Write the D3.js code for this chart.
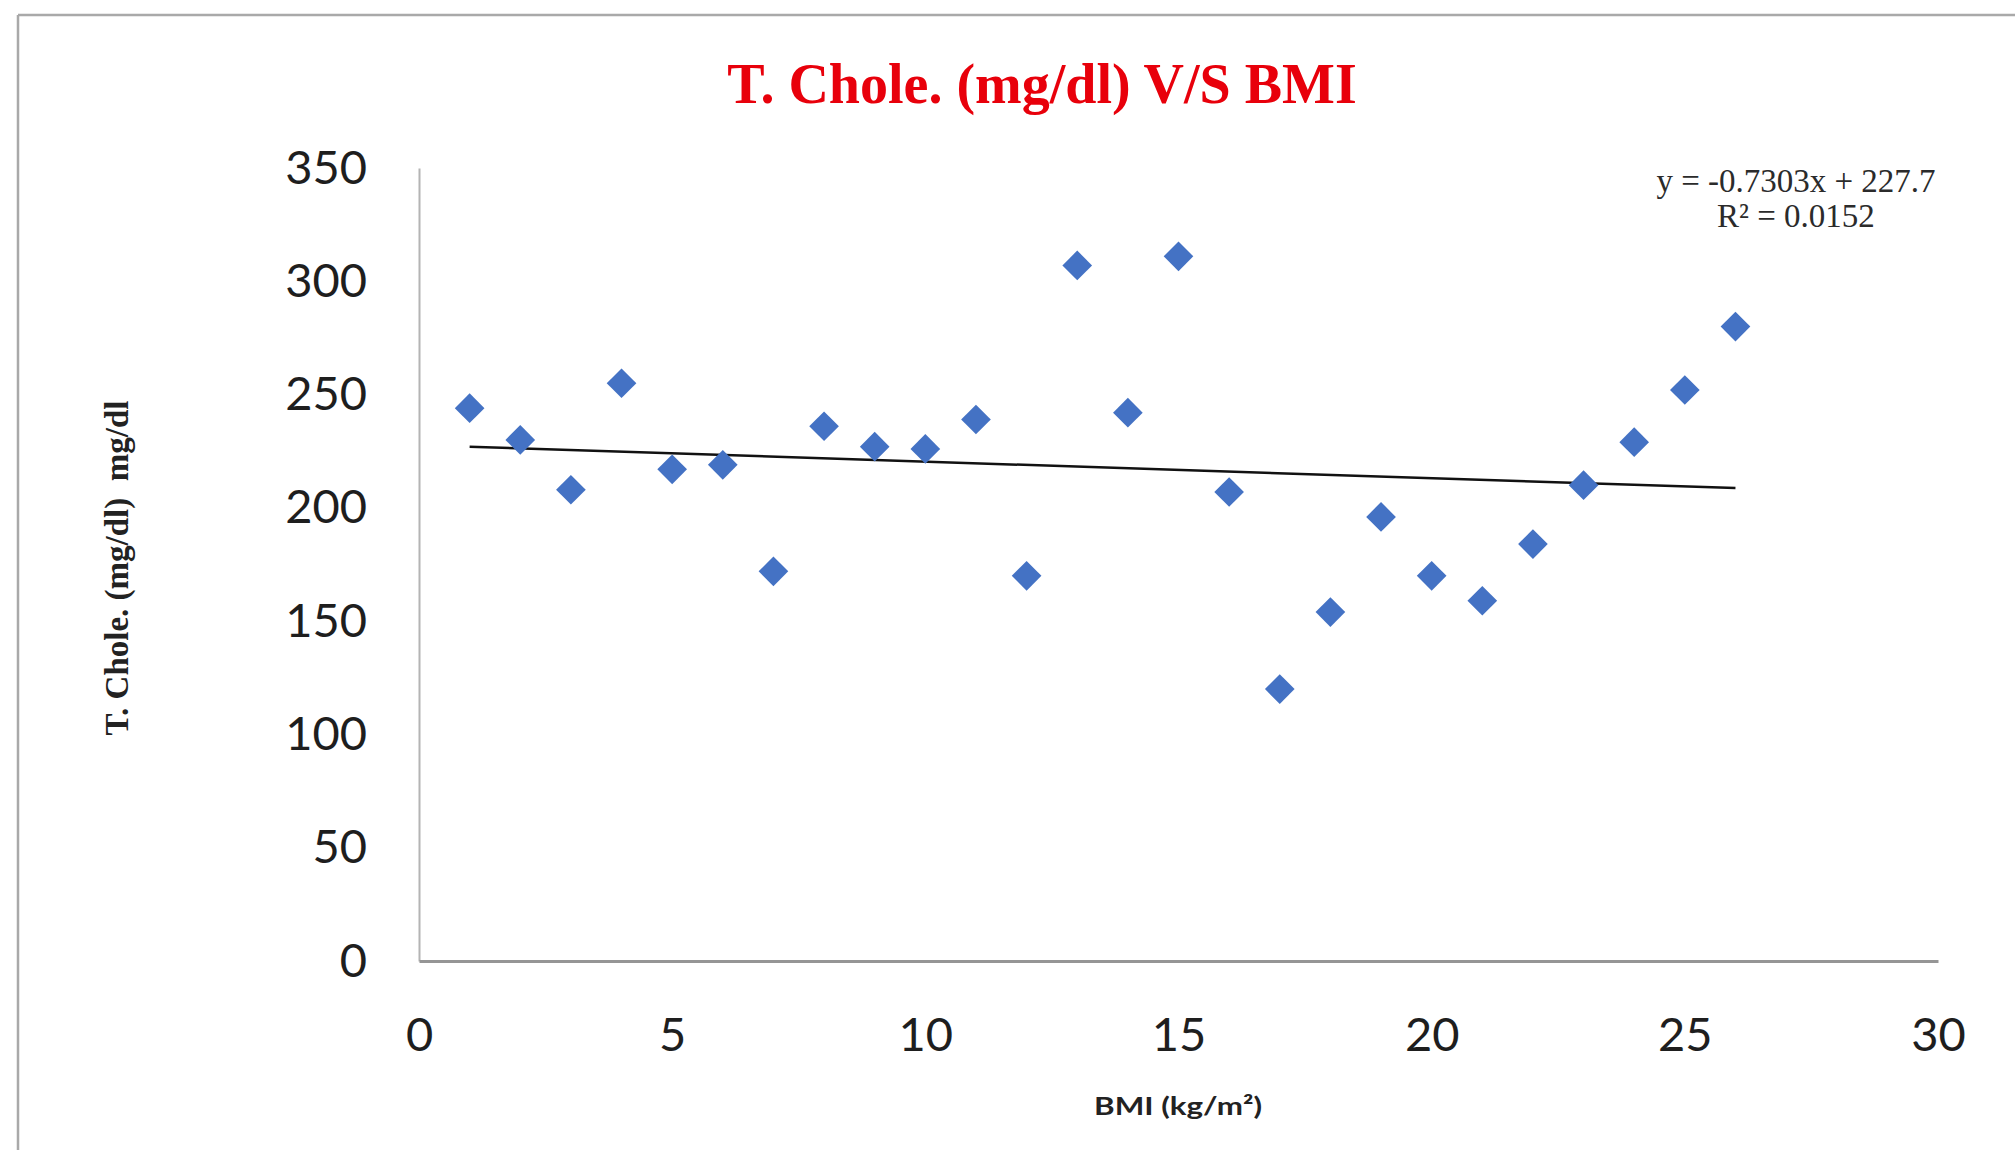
<html><head>
<meta charset="utf-8">
<title>T. Chole. (mg/dl) V/S BMI</title>
<script type="text/javascript" src="https://d3js.org/d3.v7.min.js"></script>
<style>
  body { margin: 0; background: #fff; }
</style>
</head>
<body>
<div id="chart"></div>

<script>

// values
var bmi = [1, 2, 3, 4, 5, 6, 7, 8, 9, 10, 11, 12, 13, 14, 15, 16, 17, 18, 19, 20, 21, 22, 23, 24, 25, 26];
var chole = [244, 230, 208, 255, 217, 219, 172, 236, 227, 226, 239, 170, 307, 242, 311, 207, 120, 154, 196, 170, 159, 184, 210, 229, 252, 280];
var xTicks = [0, 5, 10, 15, 20, 25, 30];
var yTicks = [0, 50, 100, 150, 200, 250, 300, 350];
var trendLabel = ["y = -0.7303x + 227.7", "R\u00b2 = 0.0152"];

var width = 2015;
var height = 1150;

var svg = d3.select("#chart")
  .append("svg")
    .attr("width", width)
    .attr("height", height);

// frame (only top and left edges show in the picture)
svg.append("line")
  .attr("x1", 18).attr("y1", 15).attr("x2", width).attr("y2", 15)
  .attr("stroke", "#a9a9a9").attr("stroke-width", 2.5);
svg.append("line")
  .attr("x1", 18).attr("y1", 15).attr("x2", 18).attr("y2", height)
  .attr("stroke", "#a9a9a9").attr("stroke-width", 2.5);

var xScale = d3.scaleLinear()
    .domain([0, 30])
    .range([419, 1938]);

var yScale = d3.scaleLinear()
    .domain([0, 350])
    .range([961, 168]);

// y axis
var yAxis = d3.axisLeft(yScale)
    .tickValues(yTicks)
    .tickSize(0)
    .tickPadding(52);

var gy = svg.append("g")
    .attr("transform", "translate(" + xScale(0) + ",0)")
    .call(yAxis);
gy.select(".domain").attr("stroke", "#b4b4b4").attr("stroke-width", 2);
gy.selectAll("text")
    .style("font-family", "Lato")
    .style("font-size", "47px")
    .attr("fill", "#1e1e1e");

// x axis
var xAxis = d3.axisBottom(xScale)
    .tickValues(xTicks)
    .tickSize(0)
    .tickPadding(57);

var gx = svg.append("g")
    .attr("transform", "translate(0," + yScale(0) + ")")
    .call(xAxis);
gx.select(".domain").attr("stroke", "#959595").attr("stroke-width", 3);
gx.selectAll("text")
    .style("font-family", "Lato")
    .style("font-size", "47px")
    .attr("fill", "#1e1e1e");

// linear trend line (least squares over the points)
var mx = d3.mean(bmi);
var my = d3.mean(chole);
var sxy = d3.sum(bmi, function(d, i) { return (d - mx) * (chole[i] - my); });
var sxx = d3.sum(bmi, function(d) { return (d - mx) * (d - mx); });
var slope = sxy / sxx;
var intercept = my - slope * mx;
var xr = d3.extent(bmi);

svg.append("path")
    .datum(xr)
    .attr("fill", "none")
    .attr("stroke", "#111")
    .attr("stroke-width", 2.5)
    .attr("d", d3.line()
      .x(function(d) { return xScale(d); })
      .y(function(d) { return yScale(slope * d + intercept); })
    );

// points
svg.selectAll(".pt")
  .data(bmi)
  .enter()
  .append("path")
    .attr("class", "pt")
    .attr("d", d3.symbol().type(d3.symbolSquare).size(440))
    .attr("transform", function(d, i) {
      return "translate(" + xScale(d) + "," + yScale(chole[i]) + ") rotate(45)";
    })
    .attr("fill", "#4472c4");

// trendline equation
svg.append("g")
  .selectAll("text")
  .data(trendLabel)
  .enter()
  .append("text")
    .attr("x", 1796)
    .attr("y", function(d, i) { return 192 + i * 35; })
    .attr("text-anchor", "middle")
    .style("font-family", "Liberation Serif")
    .style("font-size", "33px")
    .attr("fill", "#2b2b2b")
    .text(function(d) { return d; });

// title
svg.append("text")
 .attr("x", 1042)
 .attr("y", 103)
 .attr("text-anchor", "middle")
 .style("font-family", "Liberation Serif")
 .style("font-weight", "bold")
 .style("font-size", "56px")
 .attr("fill", "#e8000b")
 .text("T. Chole. (mg/dl) V/S BMI");

// axis titles
svg.append("text")
 .attr("x", 1178)
 .attr("y", 1115)
 .attr("text-anchor", "middle")
 .attr("textLength", 168)
 .attr("lengthAdjust", "spacingAndGlyphs")
 .style("font-family", "Lato")
 .style("font-weight", "bold")
 .style("font-size", "25px")
 .attr("fill", "#222")
 .text("BMI (kg/m\u00b2)");

svg.append("text")
 .attr("transform", "translate(128,568) rotate(-90)")
 .attr("text-anchor", "middle")
 .style("font-family", "Liberation Serif")
 .style("font-weight", "bold")
 .style("font-size", "33px")
 .style("white-space", "pre")
 .attr("fill", "#222")
 .text("T. Chole. (mg/dl)  mg/dl");

</script>

</body></html>
